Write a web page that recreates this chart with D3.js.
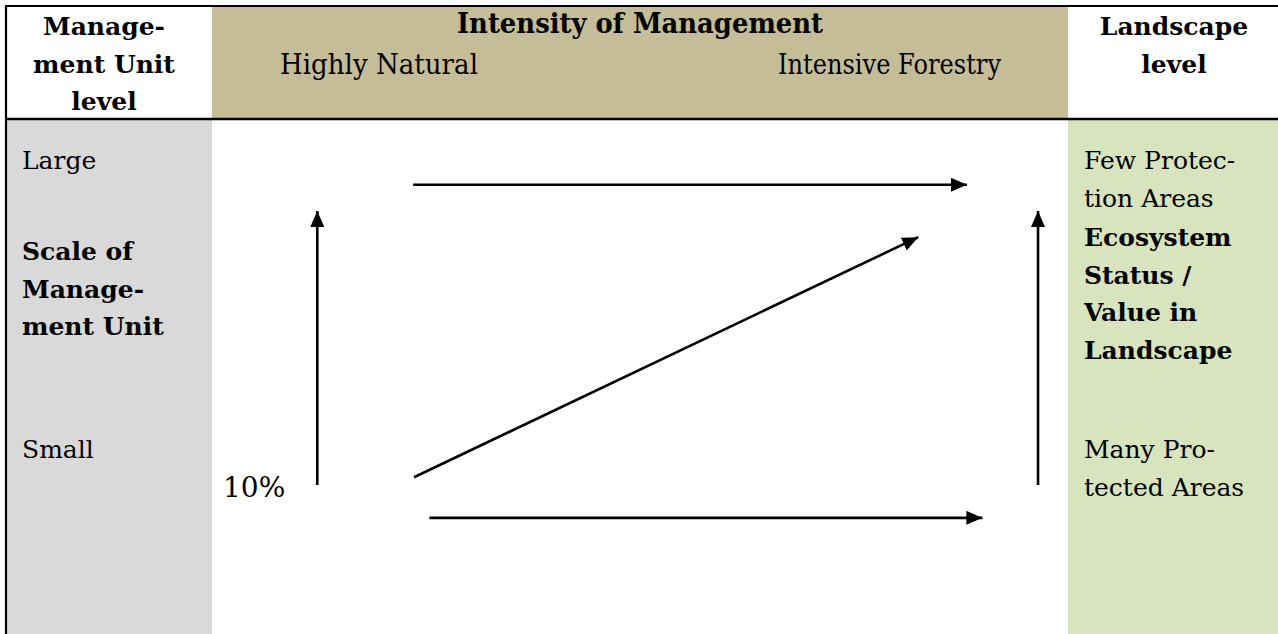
<!DOCTYPE html>
<html>
<head>
<meta charset="utf-8">
<script src="https://cdn.jsdelivr.net/npm/d3@7"></script>
<style>
html,body{margin:0;padding:0;background:#fff;}
svg{display:block;}
</style>
</head>
<body>
<svg id="chart" width="1278" height="634"></svg>
<script>
// ---- data ----
const headerLeft = ["Manage-", "ment Unit", "level"];
const headerTitle = "Intensity of Management";
const intensityLabels = ["Highly Natural", "Intensive Forestry"];
const headerRight = ["Landscape", "level"];
const scaleLabels = ["Large", "Small"];
const scaleTitle = ["Scale of", "Manage-", "ment Unit"];
const landscapeTop = ["Few Protec-", "tion Areas"];
const landscapeTitle = ["Ecosystem", "Status /", "Value in", "Landscape"];
const landscapeBottom = ["Many Pro-", "tected Areas"];
const baseLabel = "10%";
// arrows in conceptual units: intensity (0-100) x scale-of-unit (0-100)
const arrowFrom = [[12.3, 29.0], [23.5, 87.4], [23.6, 30.5], [25.4, 22.6], [96.5, 29.0]];
const arrowTo   = [[12.3, 82.3], [88.2, 87.4], [82.5, 77.2], [90.0, 22.6], [96.5, 82.3]];

// ---- layout ----
const W = 1278, H = 634;
const colL = 7, colM = 212, colR = 1068;
const topY = 6, headBottom = 119;
const x = d3.scaleLinear().domain([0, 100]).range([colM, colR]);
const y = d3.scaleLinear().domain([0, 100]).range([H, headBottom + 1]);

const svg = d3.select("#chart");
const defs = svg.append("defs");
defs.append("marker").attr("id", "ah")
  .attr("viewBox", "0 0 16 14").attr("refX", 16).attr("refY", 7)
  .attr("markerWidth", 16).attr("markerHeight", 14)
  .attr("markerUnits", "userSpaceOnUse").attr("orient", "auto")
  .append("path").attr("d", "M0,0 L16,7 L0,14 Z").attr("fill", "#000");

// backgrounds
svg.append("rect").attr("x", colM).attr("y", topY).attr("width", colR - colM).attr("height", headBottom - topY).attr("fill", "#C4BD97");
svg.append("rect").attr("x", colL).attr("y", headBottom).attr("width", colM - colL).attr("height", H - headBottom).attr("fill", "#D9D9D9");
svg.append("rect").attr("x", colR).attr("y", headBottom).attr("width", W - colR).attr("height", H - headBottom).attr("fill", "#D7E4BD");

// borders
svg.append("line").attr("x1", 5).attr("x2", W).attr("y1", topY).attr("y2", topY).attr("stroke", "#000").attr("stroke-width", 2.2);
svg.append("line").attr("x1", 5).attr("x2", W).attr("y1", headBottom).attr("y2", headBottom).attr("stroke", "#000").attr("stroke-width", 2.6);
svg.append("line").attr("x1", 6).attr("x2", 6).attr("y1", topY - 1).attr("y2", H).attr("stroke", "#000").attr("stroke-width", 2.2);

const serif = "'DejaVu Serif', serif";
function lines(arr, x0, y0, step, opts) {
  svg.append("g").selectAll("text").data(arr).join("text")
    .attr("x", x0).attr("y", (d, i) => y0 + i * step)
    .attr("font-family", serif).attr("font-size", opts.size || 25)
    .attr("font-weight", opts.bold ? "bold" : "normal")
    .attr("text-anchor", opts.anchor || "start")
    .attr("fill", "#000").text(d => d);
}

// header
lines(headerLeft, 104, 35, 37.5, {bold: true, anchor: "middle"});
lines(headerRight, 1174, 35, 37.5, {bold: true, anchor: "middle"});
svg.append("text").attr("x", 457).attr("y", 33).attr("font-family", serif).attr("font-size", 27)
  .attr("font-weight", "bold").attr("textLength", 366).attr("lengthAdjust", "spacingAndGlyphs").text(headerTitle);
const intX = [280, 778], intW = [198, 223];
svg.append("g").selectAll("text").data(intensityLabels).join("text")
  .attr("x", (d, i) => intX[i]).attr("y", 74).attr("font-family", serif).attr("font-size", 27)
  .attr("textLength", (d, i) => intW[i]).attr("lengthAdjust", "spacingAndGlyphs").text(d => d);

// left column
lines([scaleLabels[0]], 22, 169, 0, {});
lines(scaleTitle, 22, 260, 37.5, {bold: true});
lines([scaleLabels[1]], 22, 458, 0, {});
lines([baseLabel], 223, 497, 0, {size: 28});

// right column
lines(landscapeTop, 1084, 169, 37.5, {});
lines(landscapeTitle, 1084, 246, 37.5, {bold: true});
lines(landscapeBottom, 1084, 458, 37.5, {});

// arrows
svg.append("g").selectAll("line").data(arrowFrom).join("line")
  .attr("x1", d => x(d[0])).attr("y1", d => y(d[1]))
  .attr("x2", (d, i) => x(arrowTo[i][0])).attr("y2", (d, i) => y(arrowTo[i][1]))
  .attr("stroke", "#000").attr("stroke-width", 2.6).attr("marker-end", "url(#ah)");
</script>
</body>
</html>
